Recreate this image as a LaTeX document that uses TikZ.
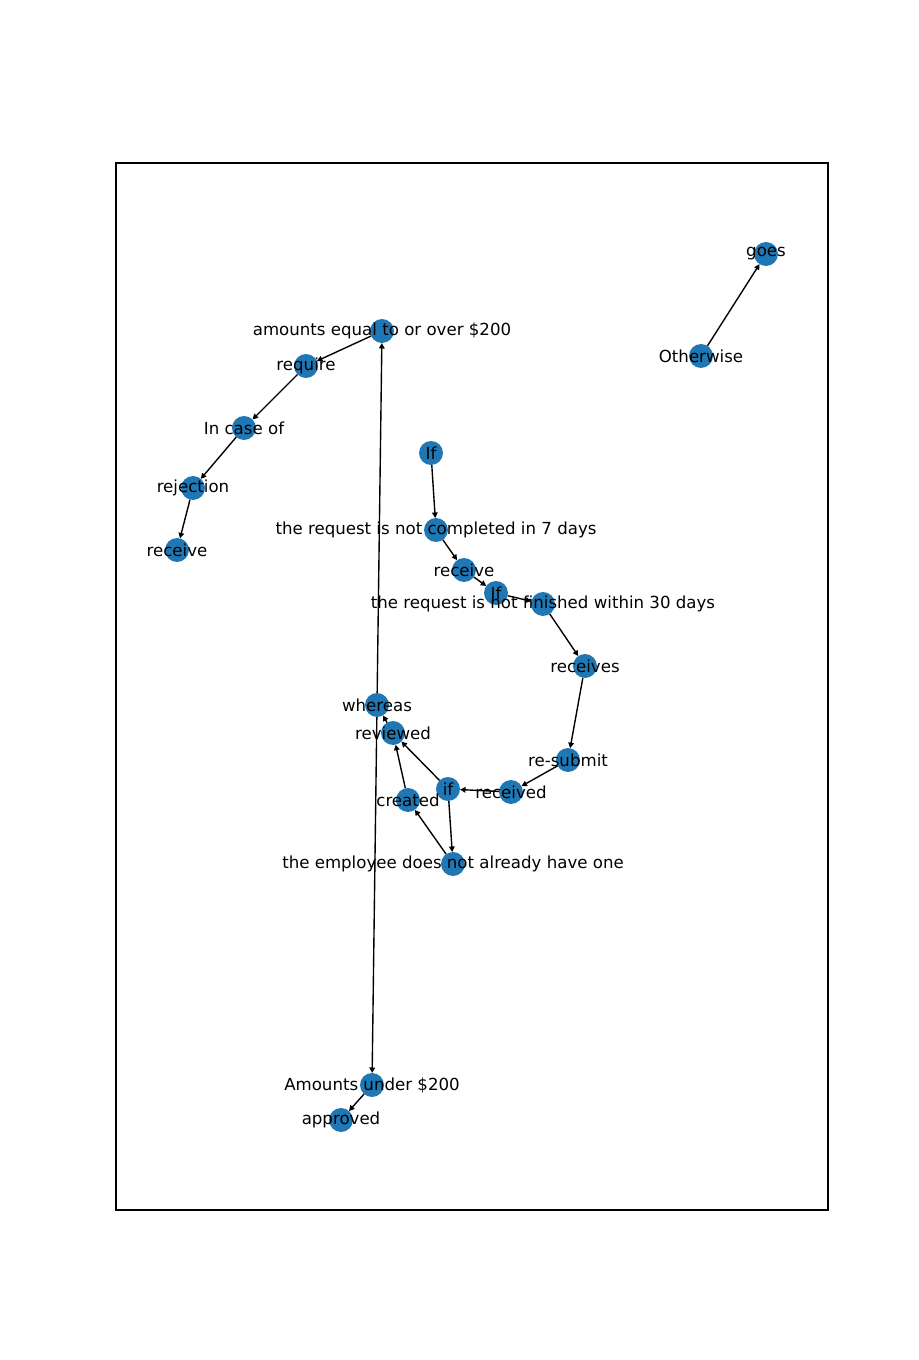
\documentclass[tikz,border=0pt]{standalone}
\usepackage{fontspec}
\setmainfont{DejaVu Sans}
\usepackage{xcolor}
\usepackage{tikz}
\usetikzlibrary{arrows.meta,backgrounds}
\definecolor{nodeblue}{HTML}{1F77B4}

\begin{document}
\begin{tikzpicture}[x=0.01in,y=-0.01in,
  dot/.style={circle,fill=nodeblue,minimum size=17.3pt,inner sep=0pt,outer sep=0pt},
  lbl/.style={font=\fontsize{12pt}{14pt}\selectfont,text=black,inner sep=0pt},
  arr/.style={-{Triangle[length=4pt,width=4pt]},draw=black,line width=1pt}]
\useasboundingbox (0,0) rectangle (919,1360);
\draw[line width=0.8pt] (116,163) rectangle (828,1210);
% nodes
\node[dot,label={[lbl]center:goes}] (goes) at (766,254) {};
\node[dot,label={[lbl]center:Otherwise}] (other) at (701,356) {};
\node[dot,label={[lbl]center:amounts equal to or over \$200}] (over) at (382,331) {};
\node[dot,label={[lbl]center:require}] (require) at (306,366) {};
\node[dot,label={[lbl]center:In case of}] (incase) at (244,428) {};
\node[dot,label={[lbl]center:rejection}] (reject) at (193,488) {};
\node[dot,label={[lbl]center:receive}] (recA) at (177,550) {};
\node[dot,label={[lbl]center:If}] (ifA) at (431,453) {};
\node[dot,label={[lbl]center:the request is not completed in 7 days}] (seven) at (436,530) {};
\node[dot,label={[lbl]center:receive}] (recB) at (464,570) {};
\node[dot,label={[lbl]center:If}] (ifB) at (496,593) {};
\node[dot,label={[lbl]center:the request is not finished within 30 days}] (thirty) at (543,604) {};
\node[dot,label={[lbl]center:receives}] (receives) at (585,666) {};
\node[dot,label={[lbl]center:re-submit}] (resub) at (568,760) {};
\node[dot,label={[lbl]center:received}] (received) at (511,792) {};
\node[dot,label={[lbl]center:if}] (ifC) at (448,789) {};
\node[dot,label={[lbl]center:whereas}] (whereas) at (377,705) {};
\node[dot,label={[lbl]center:reviewed}] (reviewed) at (393,733) {};
\node[dot,label={[lbl]center:created}] (created) at (408,800) {};
\node[dot,label={[lbl]center:the employee does not already have one}] (employee) at (453,864) {};
\node[dot,label={[lbl]center:Amounts under \$200}] (under) at (372,1085) {};
\node[dot,label={[lbl]center:approved}] (approved) at (341,1120) {};
% edges
\begin{scope}[on background layer]
\draw[arr] (other)--(goes);
\draw[arr] (over)--(require);\draw[arr] (require)--(incase);
\draw[arr] (incase)--(reject);\draw[arr] (reject)--(recA);
\draw[arr] (ifA)--(seven);\draw[arr] (seven)--(recB);
\draw[arr] (recB)--(ifB);\draw[arr] (ifB)--(thirty);
\draw[arr] (thirty)--(receives);\draw[arr] (receives)--(resub);
\draw[arr] (resub)--(received);\draw[arr] (received)--(ifC);
\draw[arr] (ifC)--(reviewed);\draw[arr] (ifC)--(employee);
\draw[arr] (employee)--(created);\draw[arr] (created)--(reviewed);
\draw[arr] (reviewed)--(whereas);
\draw[arr] (whereas)--(over);\draw[arr] (whereas)--(under);
\draw[arr] (under)--(approved);
\end{scope}
\end{tikzpicture}
\end{document}
